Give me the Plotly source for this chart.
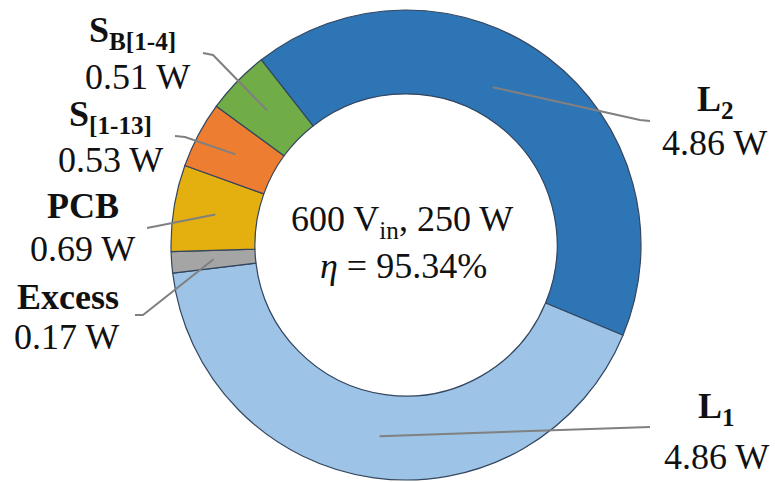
import math
import plotly.graph_objects as go

# Loss breakdown of the converter at 600 V input, 250 W output
names = ["L2", "L1", "Excess", "PCB", "S[1-13]", "SB[1-4]"]
losses_w = [4.86, 4.86, 0.17, 0.69, 0.53, 0.51]
label_names = ["<b>L<sub>2</sub></b>", "<b>L<sub>1</sub></b>", "<b>Excess</b>",
               "<b>PCB</b>", "<b>S<sub>[1-13]</sub></b>", "<b>S<sub>B[1-4]</sub></b>"]
colors = ["#2E75B6", "#9DC3E6", "#A5A5A5", "#E3B00F", "#ED7D31", "#70AD47"]
center_lines = ["600 V<sub>in</sub>, 250 W", "<i>η</i> = 95.34%"]

W, H = 775, 482
CX, CY, R_OUT = 406, 245, 235
HOLE = 0.643
ROTATION = -38
FONT = "Liberation Serif, Times New Roman, serif"
FS = 36

# label placement (pixel centres of name line / value line) and leader routing
label_pos = {
    "L2":      dict(name=(715, 101), value=(714, 143), path=[(640, 120), (650, 121)], dang=-8.5, dr=-13),
    "L1":      dict(name=(716, 408), value=(716, 457), path=[(650, 427)], dang=0, dr=0),
    "Excess":  dict(name=(68, 297), value=(66, 337), path=[(143, 315), (135, 315)], dang=0, dr=0),
    "PCB":     dict(name=(83, 206), value=(82, 249), path=[(147, 228)], dang=0, dr=0),
    "S[1-13]": dict(name=(110, 116), value=(110, 160), path=[(185, 137), (175, 136)], dang=0, dr=0),
    "SB[1-4]": dict(name=(132, 33), value=(137, 77), path=[(213, 55), (203, 53)], dang=0, dr=0),
}


def px(x):
    return x / W


def py(y):
    return 1 - y / H


fig = go.Figure(go.Pie(
    labels=names,
    values=losses_w,
    sort=False,
    direction="clockwise",
    rotation=ROTATION,
    hole=HOLE,
    marker=dict(colors=colors, line=dict(color="#34465e", width=1.2)),
    textinfo="none",
    showlegend=False,
    domain=dict(x=[px(CX - R_OUT), px(CX + R_OUT)],
                y=[py(CY + R_OUT), py(CY - R_OUT)]),
))

total = sum(losses_w)
r_mid = R_OUT * (1 + HOLE) / 2
shapes, annotations = [], []
cum = 0.0
for name, lab, val in zip(names, label_names, losses_w):
    cfg = label_pos[name]
    mid = ROTATION + 360 * (cum + val / 2) / total + cfg["dang"]
    cum += val
    a = math.radians(mid)
    r = r_mid + cfg["dr"]
    sx, sy = CX + r * math.sin(a), CY - r * math.cos(a)
    pts = [(sx, sy)] + cfg["path"]
    d = "M " + " L ".join(f"{px(x):.5f},{py(y):.5f}" for x, y in pts)
    shapes.append(dict(type="path", xref="paper", yref="paper", path=d,
                       line=dict(color="#808080", width=2)))
    nx, ny = cfg["name"]
    vx, vy = cfg["value"]
    annotations.append(dict(x=px(nx), y=py(ny), text=lab, showarrow=False,
                            xanchor="center", yanchor="middle",
                            font=dict(family=FONT, size=FS, color="#111111")))
    annotations.append(dict(x=px(vx), y=py(vy), text=f"{val:.2f} W", showarrow=False,
                            xanchor="center", yanchor="middle",
                            font=dict(family=FONT, size=FS, color="#111111")))

for txt, (x, y) in zip(center_lines, [(402, 222), (403, 266)]):
    annotations.append(dict(x=px(x), y=py(y), text=txt, showarrow=False,
                            xanchor="center", yanchor="middle",
                            font=dict(family=FONT, size=FS, color="#111111")))

fig.update_layout(
    width=W, height=H,
    margin=dict(l=0, r=0, t=0, b=0),
    paper_bgcolor="white", plot_bgcolor="white",
    shapes=shapes, annotations=annotations,
)

fig.write_html("out.html")
